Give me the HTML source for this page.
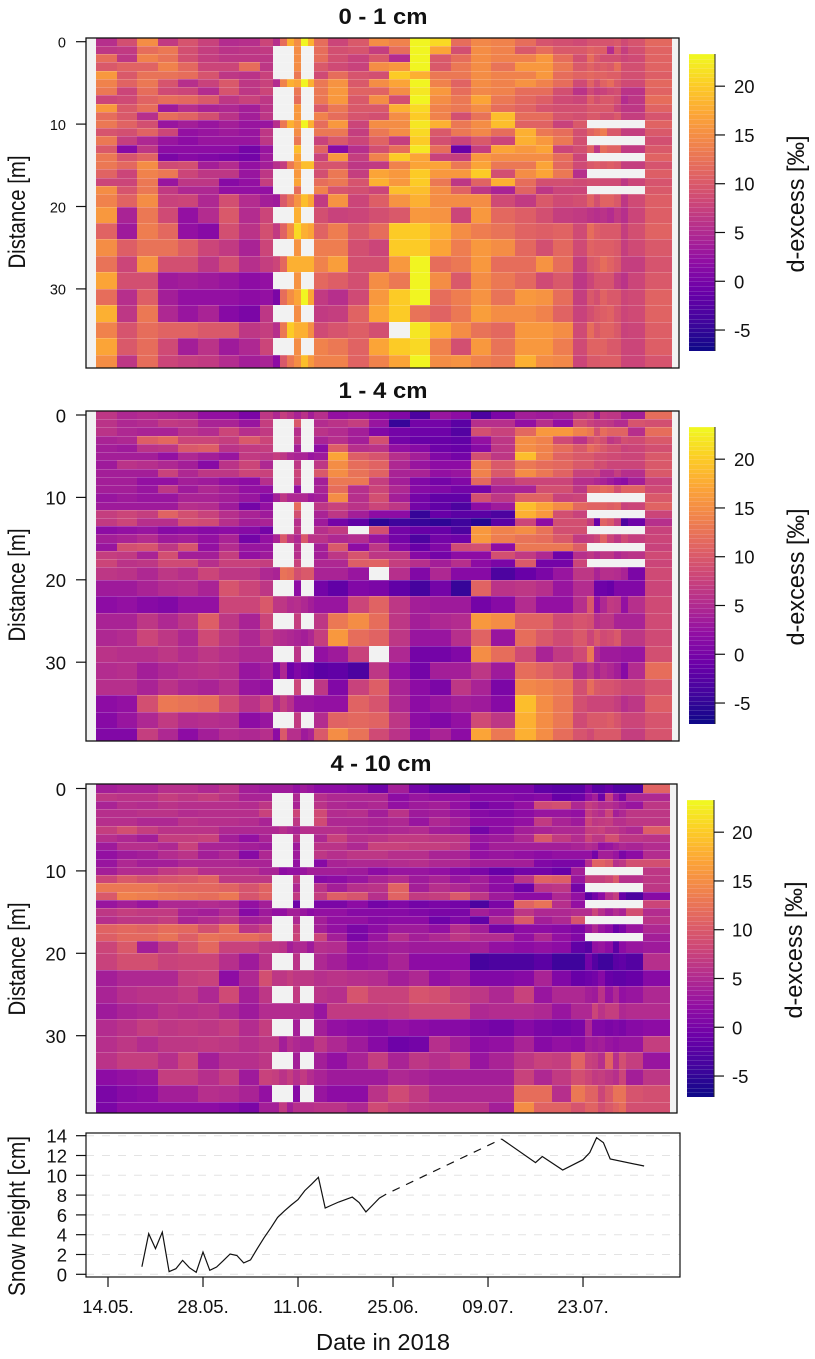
<!DOCTYPE html>
<html lang="en">
<head>
<meta charset="utf-8">
<title>d-excess heatmaps and snow height</title>
<style>
html,body{margin:0;padding:0;background:#fff;}
svg{display:block;font-family:"Liberation Sans",Arial,sans-serif;fill:#111;}
</style>
</head>
<body>
<svg id="figure" xmlns="http://www.w3.org/2000/svg" width="815" height="1359" viewBox="0 0 815 1359">
  <rect x="0" y="0" width="815" height="1359" fill="#ffffff"/>
  <g id="panels"></g>
  <g id="snow"></g>
  <text x="383" y="24" text-anchor="middle" font-size="22" font-weight="bold" textLength="89" lengthAdjust="spacingAndGlyphs">0 - 1 cm</text>
  <text x="383" y="398" text-anchor="middle" font-size="22" font-weight="bold" textLength="89" lengthAdjust="spacingAndGlyphs">1 - 4 cm</text>
  <text x="381" y="771" text-anchor="middle" font-size="22" font-weight="bold" textLength="101" lengthAdjust="spacingAndGlyphs">4 - 10 cm</text>
  <text transform="translate(25,212) rotate(-90)" text-anchor="middle" font-size="24" textLength="113" lengthAdjust="spacingAndGlyphs">Distance [m]</text>
  <text transform="translate(25,585) rotate(-90)" text-anchor="middle" font-size="24" textLength="113" lengthAdjust="spacingAndGlyphs">Distance [m]</text>
  <text transform="translate(25,959) rotate(-90)" text-anchor="middle" font-size="24" textLength="113" lengthAdjust="spacingAndGlyphs">Distance [m]</text>
  <text transform="translate(25,1216) rotate(-90)" text-anchor="middle" font-size="24" textLength="160" lengthAdjust="spacingAndGlyphs">Snow height [cm]</text>
  <text transform="translate(804,204) rotate(-90)" text-anchor="middle" font-size="24" textLength="137" lengthAdjust="spacingAndGlyphs">d-excess [‰]</text>
  <text transform="translate(804,577) rotate(-90)" text-anchor="middle" font-size="24" textLength="137" lengthAdjust="spacingAndGlyphs">d-excess [‰]</text>
  <text transform="translate(802,950) rotate(-90)" text-anchor="middle" font-size="24" textLength="137" lengthAdjust="spacingAndGlyphs">d-excess [‰]</text>
  <text x="383" y="1350" text-anchor="middle" font-size="23" textLength="134" lengthAdjust="spacingAndGlyphs">Date in 2018</text>
</svg>
<script>
const _ = null;
// column edges, days since 14 May
const columnEdgeDays = [-1.77,1.33,4.27,7.37,10.3,13.26,16.36,19.3,22.4,24.3,25.35,26.4,27.4,28.4,29.4,30.4,32.4,35.4,38.5,41.4,44.5,47.45,50.5,53.5,56.4,60,63,65.6,68.5,70.6,71.6,72.5,73.5,74.6,75.6,76.6,79.1,83.1];
// row edges, metres along transect
const rowEdgeMetres = [-0.5,0.5,1.5,2.5,3.5,4.5,5.5,6.5,7.5,8.5,9.5,10.5,11.5,12.5,13.5,14.5,15.5,16.5,17.5,18.5,20,22,24,26,28,30,32,34,36,38,39.6];
const distanceTicks = [0,10,20,30];
const colorbarTicks = [-5,0,5,10,15,20];
const colorMin = -7.15;
const colorMax = 23.3;
const colorbarLevelCount = 64;
const plasmaStops = ["#0d0887","#41049d","#6a00a8","#8f0da4","#b12a90","#cc4678","#e16462","#f1844b","#fca636","#fcce25","#f0f921"];

const dexcess0to1 = [
[5,9,15,6.5,9.5,7.5,4.5,5,8,5,12,18,15,23,18,12,8,10,15,14,23,21,12,14.5,14,12,9.5,9,8.5,9.5,9.5,9.5,9.5,10,8.5,9.5,11.5],
[6,6.5,12,13,9,7,5.5,6,6.5,_,_,_,15,_,_,12,9,9.5,7,12,23,17,9,15,14,10,12,10,10,11,10.5,10.5,4.5,10,7,9,11],
[12,6,14,12.5,9,7,6,6,6,_,_,_,15,_,_,12,9,7.5,10,4.5,23,10,12,15,14,14,16,12,9,12,10,9,9,9,8,8.5,11],
[10,11,11,14,11.5,8,8,12,6,_,_,_,15,_,_,10,8.5,7.5,15,16,23,10,13,15,12.5,16,16,13,10,11,10,10.5,10,12,9,9,11],
[16,10,12.5,12.5,12,9.5,6,5.5,7.5,_,_,_,13,_,_,8.5,12,9.5,9,20,18,13,13,15,14,14,16,12,11,11.5,11,11,10.5,10.5,9,9,10.5],
[14,11,13,9.5,5,7.5,10,6,7.5,4.5,14,18,17,23,18,13,15.5,10,15,17,23,14,11,15,14,15.5,14,12,8.5,11,9,11,12,10,8.5,8.5,11.5],
[13,8,12,8.5,8,4.5,9.5,6,8,_,_,_,13,_,_,13,16,11,11,15,22,16,12,14.5,14,12,12,9,5.5,8.5,7,7.5,8.5,9,5.5,5.5,11],
[8,8.5,11,12,11.5,10,6,7.5,6,_,_,_,12,_,_,13,16,10,15,9,23,15,13,17,13,11.5,10.5,8.5,8,10.5,9,10,10,9,4.5,6,12],
[16,10,12,2.5,5,3.5,4,3,5.5,_,_,_,16,_,_,10,13,10,10,18,21,14,13,15,12,11,9.5,9,9,10,10,10,10,8,6,6,11],
[12,10,5,12,11,9,5.5,3,6,_,_,_,16,_,_,14,12,9.5,9,15,20,14,9,12.5,19,12,12,9.5,9,10,10,9,9,10,7,7,9.5],
[13,11,9,2,3,2,3,2,2,5,13,18,16,23,18,12,16,8,15,15,22,18,13,15,19,11,11,7.5,10,_,_,_,_,_,_,_,11],
[9.5,9,11,8,1.5,2,2.5,2,6,_,_,_,15,_,_,13,13,7,13,15,21,10,13,14.5,12,18,13,12,9,11,12,13.5,10,10,7,7,10],
[13,7,4,2,1,2,2,2,6,_,_,_,13,_,_,7.5,10,8,11,7,20,9,7.5,10,8,18,16,13,9,_,_,_,_,_,_,_,9],
[10,0.5,6,1,1,1,1,-1,2,_,_,_,19,_,_,11,0.5,5,9,12,22,12,-2,7,17,16,17,8,9,11,6,12,11,11,6.5,6.5,10],
[13,9.5,11,-0.5,0.5,0,-0.5,-1,2.5,_,_,_,17,_,_,7.5,16,7,14,20,17,7.5,7,16,15,15,15,12,8,_,_,_,_,_,_,_,11],
[13,11.5,15,8.5,9,3,4.5,1.5,3,5,7,13,16,19,19,9.5,9.5,6,6.5,14,17,17,13,17,13,13,17,11.5,8.5,10,10.5,10,10.5,10,7,7,9.5],
[11,8,14,13,8,6,6,2,6,_,_,_,16,_,_,9,13,7,17,16,20,16,16,20,9,15,17,13,5,_,_,_,_,_,_,_,10.5],
[8,8,13,2,6,6,0.5,1.5,7,_,_,_,17,_,_,12,13,9.5,18,16,20,13,6,11,18,12,9,9,8.5,9,9,8.5,8.5,8.5,6,8,9.5],
[15,9.5,13,6.5,4,4,1.5,1.5,1.5,_,_,_,12,_,_,14,9.5,9,8,19,19,15,11,6,3.5,11,6,8,8,_,_,_,_,_,_,_,10],
[14,11,15,7.5,8,4,9,4.5,3,2.5,10,12.5,15.5,19,17,6.5,15.5,8,10.5,15.5,18,15,15,15,8.5,6.5,10,8.5,9,11,9,11,11,10,6,8.5,10.5],
[16,3.5,13,8.5,1.5,4.5,10,4.5,8,_,_,_,18,_,_,9,7.5,8,9,10,16,15.5,8,16,11.5,10.5,9,7,6.5,5.5,5,5.5,4.5,6.5,5,8,10.5],
[11,2.5,13.5,11.5,1.5,0.5,9,5.5,9,6.5,11,15,21,18,17,11,13.5,10,12,20,20,18,15,13.5,12.5,11,10.5,11,8.5,12,10.5,10,10,10,7,9,11],
[15,10.5,12.5,12.5,10.5,8,6.5,3.5,8,_,_,_,15.5,_,_,13.5,13.5,9,8,20,20,17,13.5,16,15,11.5,9,11.5,8.5,11,10.5,10.5,10.5,10,7,8.5,10],
[12.5,8,15.5,9,9,6,9,5,7,8,11.5,18,18,18,18,14,16.5,9,9,16,23,12,13,16,12,12,15.5,12,7,10,10.5,12,11,10,7,7,9.5],
[17,9,9,2.5,3,2.5,2,1,1.5,_,_,_,15.5,_,_,11.5,10.5,9,15,13,23,15,10,15,13,11.5,8.5,10,6,8,9.5,9.5,9.5,7,5.5,8,10],
[12,5,10.5,3,1.5,1.5,1.5,1,1.5,-0.5,12,15,17,23,17,6.5,5,8.5,16,20,23,12,13.5,15.5,12.5,16,15.5,12,7,10,9,11,10,10,8,8.5,11],
[18,6,13,4,2,3.5,0.5,-0.5,6,_,_,_,15,_,_,6.5,7,11,17,20,12.5,11,13,16.5,15,15,14,11,7.5,9,10,10.5,11,9.5,8,8.5,11],
[14,9.5,12,11,11,10,10,6,7,5,13,20,18,18,15,8.5,9.5,10.5,9,_,22,18,15,12.5,11.5,16,16,15,8.5,12,10,11,11,10,7.5,8,10.5],
[17,10,12,8.5,3,5.5,2.5,4,8,_,_,_,15,_,_,14,13,11,17,20,21,14,9,16,12.5,16,16,13.5,8.5,11,11,11,10,10,8,8,10.5],
[15,6,12,8,7,6.5,4.5,3,3.5,1,10,13,15,19,16,14,14,11,14,17,23,15,15.5,14,13,18,15,14.5,8,10,10,10.5,10.5,10.5,8,8,9.5]
];

const dexcess1to4 = [
[6,4,4.5,4,3.5,1.5,1.5,-0.5,6,4,7,5.5,3.5,5.5,3,5,1.5,2,1,0,-4,2,1,-4,-0.5,3,2.5,3,6,7,3,6.5,6,6,3,3,12],
[5.5,4,4.5,6.5,6,3.5,3.5,2,7,_,_,_,10,_,_,4.5,5.5,7,2,-5.5,-1,-1,-3,5,5,1.5,5,1.5,9,7.5,6.5,6.5,6,4.5,4.5,9.5,9],
[5.5,4,3.5,3.5,5.5,4.5,8,5,6.5,_,_,_,5,_,_,5.5,4.5,3,0,-1,-1.5,-1.5,-3.5,9,7.5,11.5,16,16,14,13,9,12,11,11,11,5,12],
[3.5,4,10.5,11.5,8,8,7,10,8,_,_,_,6,_,_,3.5,5,3,9,-1,-2,-2,-2.5,1.5,6,15,14,8.5,5.5,9,10,9,6,7,9,8.5,10],
[3,2.5,5.5,6,10,10.5,5.5,6.5,7,_,_,_,3,_,_,1,10.5,5,5.5,1.5,0.5,-1.5,-2,0.5,6,15,14,12,10,12,11,10,9,9,7.5,8,9],
[3,3,3,1.5,4,3,2,6.5,6,7,6,4,3.5,3.5,2,2.5,17,10.5,9.5,5,3,0,-1,9,6,19,14,11,10,10,9,9,8.5,8.5,8,8,10],
[2.5,5.5,5,4,3,0.5,5.5,8,4,_,_,_,6,_,_,6,15,12,11,4,2,1,1,13.5,10,13,12,11.5,10,10,8.5,9,8,8,8,8,10],
[3,3,3,7.5,4,6,6,8,7.5,_,_,_,8,_,_,10,15,12.5,11,3.5,3.5,1.5,2,14,10,15,13,11,7.5,7.5,8,5,5,7,5,5,10],
[3,3,1.5,1.5,3,2.5,1.5,1,5,_,_,_,7,_,_,3,13,13,7,3,0,-1,0,11.5,6,8,8,8,5,5,4,3.5,2.5,1.5,1,3,7.5],
[3,3,2,6,2.5,4,3,1.5,1.5,_,_,_,1.5,_,_,3.5,12,5,8,4,0.5,0,-1,-1,3.5,3.5,9,9,6,11,11,12,11.5,9,11,11,8.5],
[2,2.5,2,2,3.5,3.5,3,2,0,3,6,4,4,4,2.5,3,15,5,9,3,-1,-2.5,-2.5,9,6,11,11,7.5,8,_,_,_,_,_,_,_,10],
[2.5,2.5,2.5,2.5,5,4.5,2.5,-1,1.5,_,_,_,12,_,_,6,7.5,5.5,8,6,-1,-2.5,-4,1,2.5,19,17,15,11.5,11,11,11,10.5,11,7.5,8,11],
[7,8,7,11,9,7.5,5,3.5,2.5,_,_,_,9,_,_,3.5,6,3,1,1,-5.5,-2,-3,-3,-4,18,16,9,7.5,_,_,_,_,_,_,_,8],
[6.5,8,5,5,9,8.5,5,3,3.5,_,_,_,5,_,_,2.5,-1,-2.5,-6,-5,-5.5,-6,-5,-6.5,-3,8,1,9,9,7,-2,11,10,7,-4,-1.5,5],
[1,1.5,2,0.5,1,0.5,1,0.5,-1,_,_,_,6,_,_,5,6.5,_,9,-1,-2,-2,-4,16,14,15,12.5,9,9,_,_,_,_,_,_,_,7.5],
[3,3.5,4.5,2.5,3,1.5,3.5,-1,1.5,3.5,10,6,4,10,5.5,5.5,4,4.5,2,-1,-4,-1,-1.5,16,13.5,12.5,12,10,6.5,7,8,11,8,6,8.5,7,8],
[2,9,9.5,6,9.5,1.5,4.5,2,2,_,_,_,5,_,_,3,10,1,6,0.5,-2,0,8.5,9,1,13,13,13,10.5,_,_,_,_,_,_,_,7.5],
[7,6.5,3.5,9,3,3,7,1.5,2.5,_,_,_,5,_,_,3,6,9.5,6,6,0.5,-1,1,1,9,6.5,4,-1.5,5,6,4.5,6,6,4,5,5.5,8.5],
[8,5.5,6,8.5,8.5,5,7.5,7.5,7,_,_,_,7.5,_,_,4,4,10.5,11,7,5,3,5,1,-0.5,10,-1,-1,8,_,_,_,_,_,_,_,8],
[6,5.5,4,6,5,8,6,6,4,3.5,12.5,12,9,10,10,3.5,3.5,2,_,5,0,4,0.5,0.5,-4,-2,-0.5,2,6,6,3.5,5,5,4.5,3.5,-0.5,8.5],
[2.5,2.5,3.5,4.5,5,3.5,9.5,8,6,_,_,_,1,_,_,-1,-2.5,0,-0.5,-2.5,-4.5,-1,-5.5,11,5.5,6,5,2,4.5,4.5,-1.5,-1.5,-2,0,0,0,8],
[1,1.5,0.5,0,1.5,1.5,8,8,10,6,6,4.5,5,4,3,2,2,8,11,6,3,2.5,2.5,-1,0.5,4.5,1.5,1.5,5,10,1.5,4,6.5,6,1.5,5,8.5],
[3.5,3.5,6,4,6,10.5,6,3.5,8,_,_,_,7,_,_,6,13,15,12,6,3,4,4.5,16,15,11,11,8.5,9.5,9,5,6,6,3.5,3.5,3.5,8.5],
[4,4.5,8,6,4,8.5,6,4,6.5,5,4.5,4,3.5,3,4,7,16,12,11,6,2,2,5,11,2,12,10,8.5,10,8,10,8.5,9,10,6,6,8.5],
[5.5,5,5,6,4.5,6,5,4,4,_,_,_,5.5,_,_,1.5,2.5,7.5,_,4,-1,-1,0,15,12,8.5,3.5,6.5,8.5,13,4,2.5,2.5,2.5,2,2,9],
[4.5,5,3,4,5,5.5,5,2,3,0,4,-1.5,0,-1,-1.5,-3,-2.5,-4,6,1.5,-1,3,3,6,2.5,12,11,9.5,4,6,3.5,5,4,3,0.5,4.5,12],
[5,5,3.5,5.5,4,3.5,5,2,1.5,_,_,_,8,_,_,6,0,7.5,10.5,3.5,1,-0.5,6,3.5,-0.5,14.5,14,13,9,12,10,9.5,9.5,9,8,8,9.5],
[1,1.5,9,13,12.5,12,8.5,5.5,8,4,7,5,2,2,2,1.5,1.5,11,9.5,4,1,2,3,2.5,0.5,19,15,13,9,8,8,8,8,7,5,6,10.5],
[0.5,2,4,6.5,4.5,5,4.5,1,2,_,_,_,6.5,_,_,4.5,11,11.5,11,6,1,0,1.5,8.5,6,18,15,13,8.5,10,10,10,10.5,9.5,8,8,9.5],
[0,0,7,4,1,3,4.5,4,5,1,10,5,5,2.5,3.5,10,15,12.5,8.5,5.5,1.5,3.5,1,17,13,18,15,12,9.5,8.5,10,10,10,10,7,7,9.5]
];

const dexcess4to10 = [
[3,3.5,3.5,5,5,4,5.5,3,2.5,2.5,2.5,2.5,1.5,2.5,2,1,1,0.5,-1.5,3,-1,-3,-3.5,-0.5,-0.5,-0.5,-2.5,-3,-3,-0.5,-3,-3,-2,-3.5,-3.5,-3.5,11],
[6,5.5,5.5,7,6,7,5.5,3.5,3.5,_,_,_,4,_,_,5,4,4,4,1,2,1.5,1.5,0.5,0.5,0,0.5,-2,-1.5,1.5,3,-1.5,7,2,-0.5,4,4],
[3.5,5,4.5,5.5,5,5,5,4.5,6,_,_,_,3.5,_,_,5.5,4,3.5,4,1.5,2.5,3,1.5,-1,0,1.5,8.5,9,4,7,6,4.5,5,4,3,2,6],
[5,5,5.5,5.5,4.5,5,5,5,7.5,_,_,_,8,_,_,8.5,4.5,5,3,5.5,2.5,3,2,0.5,0,1,2,2,1.5,7,5.5,4.5,8,3,4,6,6],
[5,5,4,4,5.5,5,5,4.5,3.5,_,_,_,6,_,_,8.5,4,4,3.5,4,2,4,3,1,1,1.5,6.5,3.5,2.5,8,6,6.5,7,5,5,6,6],
[7,9,7,5.5,5.5,5.5,4,4,4,4,5,4,3.5,5,5,5,5,4,3.5,4,4.5,3,2.5,-1,1,3,3.5,4,4,7,7,7.5,6,6,5,4,10.5],
[5,4,3,7,7,7.5,3,1.5,3.5,_,_,_,5,_,_,4,7.5,5,5.5,6.5,6.5,6,6,2,2.5,4,10,6.5,4.5,8,6,6,9,9,6,6,5.5],
[2.5,5,5,4,7.5,3.5,3.5,3,2.5,_,_,_,2.5,_,_,5.5,5.5,4,7.5,7.5,7,7,6,1.5,3,3,3,3,3.5,4.5,4,1.5,2,3,4,3.5,4.5],
[1.5,2.5,3,4.5,5.5,3,4,0.5,4,_,_,_,2.5,_,_,6,5,6,6,5,5,3.5,3.5,1.5,2,1.5,1,1.5,1.5,1.5,-1,3,3,2,-0.5,1,4.5],
[2,4,3,3,4,4,4,3.5,3.5,_,_,_,1.5,_,_,0.5,3.5,4,4,4.5,5,4,4,3,3,3,0,-0.5,-0.5,5,11,11,10,5,6,9,9],
[3,4.5,4.5,6.5,7.5,5,5,5,3.5,3.5,1,1.5,1.5,2,3,3,3,2.5,1,2,2,1.5,0.5,-0.5,-2,-1,-1,-2,3,_,_,_,_,_,_,_,6],
[8,10,9,9.5,10,11,6,6,6,_,_,_,6,_,_,0.5,1,2,3.5,4.5,2.5,3.5,2,3,1,5.5,11,10.5,2,7,7,7,8,10,5,5,6],
[13,13,13,12,11.5,11.5,11,9.5,11,_,_,_,4,_,_,5.5,3,5,5.5,11,3,5,4,3,1,-1.5,5.5,6,-1,_,_,_,_,_,_,_,6],
[10,14,13.5,13,12.5,12,13,9.5,11,_,_,_,6.5,_,_,7,10.5,9.5,5,11,6.5,7,10,6,2.5,1,1,4,1.5,-3,-1,1,5,7,-2,-4,0.5],
[2,3,2,4,4,4.5,4,1.5,3,_,_,_,-1.5,_,_,-0.5,-0.5,1,-1,0,-1,-0.5,-1,-4,-0.5,11,12.5,5,1.5,_,_,_,_,_,_,_,8],
[6,7,6.5,6.5,3.5,3,4.5,0.5,2.5,1.5,1.5,3,3,2,1,1.5,1.5,0.5,0.5,0.5,0,-0.5,-0.5,3,2,6,4,4,4.5,4.5,8,5,3,4.5,3.5,9,4.5],
[5,6,6,7,3.5,4.5,6,3,3.5,_,_,_,4,_,_,3,1.5,1.5,0.5,1,1,-1.5,0,-2.5,4,10,3,4,9.5,_,_,_,_,_,_,_,5.5],
[11,11.5,11,12,11.5,9,12,5.5,7.5,_,_,_,7,_,_,3,1.5,-0.5,1,2.5,2.5,1.5,5,3,-1,1,1,0.5,-0.5,2,4,2,1,-2,-0.5,2,4],
[10.5,11.5,11.5,12.5,10.5,12.5,12,12,11,_,_,_,8,_,_,8,3,-0.5,2,5,3,4,6,4.5,4.5,1.5,4,1.5,0,_,_,_,_,_,_,_,3],
[8,10,3,6.5,9.5,11.5,7.5,7.5,6,6,5.5,3,4,4,2.5,5,4.5,1.5,2.5,3,2.5,2.5,2.5,3,1.5,1,1.5,1,-2.5,-3.5,1.5,2,1,-3,1,2,2.5],
[7.5,9,9,7.5,8,8,5,2.5,5.5,_,_,_,5.5,_,_,4,3,1.5,2,3.5,1,1,1,-4.5,-4,-4,-3,-5,-5,-1,-3.5,-5,-5,-3,-2.5,-3.5,5],
[3,4,4,4,7,7.5,1,4,9,6,6,7,6,6,6,5,5.5,5,4.5,3,4,1.5,2.5,0,0,0.5,3.5,0,-2,-1.5,-1,0.5,-2,-2.5,-2.5,-2,0.5],
[3.5,5,5.5,5.5,6.5,4,8.5,3,6,_,_,_,6.5,_,_,5.5,5,9.5,7.5,7.5,9.5,9,7,6,4,7.5,2,4,4,3,2.5,5.5,2,4,1.5,2,4],
[2.5,3.5,4,5.5,5,5.5,4,2.5,4.5,4.5,4.5,4.5,4.5,4,4,2,6.5,6.5,6.5,7,8,8,8,4,4.5,4.5,4,2,4,4,8,5.5,7,7,4,4.5,4.5],
[4.5,5.5,7,6,6.5,6,7,4.5,7,_,_,_,3,_,_,3,1.5,1,0.5,1.5,1,0.5,0.5,-0.5,-1,0.5,-0.5,-1,-0.5,4,0,0,-0.5,0,-0.5,0.5,1],
[5,6,4.5,6,6,6.5,6,5,6,6,3,5,4,3.5,3.5,6,4,2.5,0.5,-1.5,-1,5,3,1,1.5,3.5,0.5,1.5,1,3,2.5,3,2,1.5,2,2,7],
[5.5,7,7,5,8,3,5,5,6,_,_,_,3,_,_,3,1.5,3.5,7,3.5,6,5,6.5,2,3.5,6,7.5,7,11,7.5,7,5,11,5,9,7,2],
[1,1.5,2,7,7,5,7,2.5,7.5,7,5.5,7,5,6.5,4.5,3.5,2.5,2.5,2.5,4,3.5,3,3,3,3,7.5,4,6.5,9,8,6.5,7,6,5,8,3,6],
[-0.5,0.5,1,3,3,5,4.5,3.5,1.5,_,_,_,0.5,_,_,2,1,1,5.5,8.5,6.5,4,4,4,4,12,12,5,13,11,11,8,10,12.5,12.5,9.5,9],
[-0.5,1,1,1,1,1,0.5,-0.5,3,3,6.5,3,5,5,5,5.5,5.5,4,8.5,7,6,5.5,5.5,5.5,3,15,11,11,9.5,11,11,9,10,11,12,9,9]
];

// snow height record: days since 14 May and height in cm
const snowDays = [5,6,7,8,9,10,11,12,13,14,15,16,17,18,19,20,21,22,23,24,25,26,27,28,29,30,31,32,33,34,35,36,37,38,39,40,41,58,63,64,67,70,71,72,73,74,79];
const snowValues = [0.77,4.1,2.6,4.25,0.27,0.57,1.4,0.67,0.2,2.25,0.4,0.74,1.38,2.05,1.9,1.15,1.45,2.6,3.7,4.7,5.75,6.4,7,7.55,8.45,9.1,9.8,6.7,7,7.3,7.55,7.8,7.25,6.3,7,7.7,8.1,13.67,11.28,11.9,10.54,11.58,12.3,13.8,13.3,11.65,10.94];
const snowTicks = [0,2,4,6,8,10,12,14];
const dateTickDays = [0,14,28,42,56,70];
const dateTickLabels = ["14.05.","28.05.","11.06.","25.06.","09.07.","23.07."];

const SVGNS = "http://www.w3.org/2000/svg";
function svgEl(tag, attrs, parent){
  const el = document.createElementNS(SVGNS, tag);
  for (const k in attrs) el.setAttribute(k, attrs[k]);
  parent.appendChild(el);
  return el;
}
function hexToRgb(h){return [parseInt(h.slice(1,3),16),parseInt(h.slice(3,5),16),parseInt(h.slice(5,7),16)];}
function plasma(v){
  let t = (v-colorMin)/(colorMax-colorMin);
  t = Math.max(0,Math.min(1,t));
  const p = t*(plasmaStops.length-1);
  const i = Math.min(Math.floor(p),plasmaStops.length-2);
  const f = p-i;
  const a = hexToRgb(plasmaStops[i]), b = hexToRgb(plasmaStops[i+1]);
  return "rgb("+[0,1,2].map(function(j){return Math.round(a[j]+(b[j]-a[j])*f);}).join(",")+")";
}
// cells render slightly lighter than the colour bar in the dark half of the ramp
function cellColor(v){
  const lift = 0.8*Math.max(0,Math.min(1,(8-v)/4));
  return plasma(v+lift);
}

const panelLayouts = [
  {key:"0-1cm", values:dexcess0to1, left:86, right:679, top:38, bottom:368, zeroY:41.7, dayPx:6.786, tickFont:14.5, barX:689, barW:26, barTop:54},
  {key:"1-4cm", values:dexcess1to4, left:86, right:679, top:411, bottom:741, zeroY:415, dayPx:6.786, tickFont:18.5, barX:689, barW:26, barTop:427},
  {key:"4-10cm", values:dexcess4to10, left:86, right:677, top:784, bottom:1113, zeroY:788.5, dayPx:6.763, tickFont:18.5, barX:687, barW:27, barTop:800}
];

const panelsRoot = document.getElementById("panels");
panelLayouts.forEach(function(p){
  const xOf = function(day){return 108 + p.dayPx*day;};
  const yOf = function(m){return p.zeroY + 8.24*m;};
  const g = svgEl("g", {}, panelsRoot);
  
  

  const bg = svgEl("rect", {x:p.left,y:p.top,width:p.right-p.left,height:p.bottom-p.top,fill:"#f2f2f2"}, g);
  
  

  const cellGroup = svgEl("g", {"shape-rendering":"crispEdges"}, g);
  
  
  p.values.forEach(function(row, r){
    const y0 = Math.round(yOf(rowEdgeMetres[r]));
    const y1 = Math.round(Math.min(yOf(rowEdgeMetres[r+1]), p.bottom));
    row.forEach(function(v, c){
      if (v === null) return;
      const x0 = Math.round(xOf(columnEdgeDays[c]));
      const x1 = Math.round(xOf(columnEdgeDays[c+1]));
      const cell = svgEl("rect", {x:x0,y:y0,width:x1-x0,height:y1-y0,fill:cellColor(v)}, cellGroup);
      
      
    });
    if (r > 0){
      const seam = svgEl("rect", {x:Math.round(xOf(columnEdgeDays[0])),y:y0,width:Math.round(xOf(columnEdgeDays[columnEdgeDays.length-1]))-Math.round(xOf(columnEdgeDays[0])),height:1,fill:"#ffffff","fill-opacity":0.2}, cellGroup);
      
      
    }
  });

  const frame = svgEl("rect", {x:p.left,y:p.top,width:p.right-p.left,height:p.bottom-p.top,fill:"none",stroke:"#111","stroke-width":1.3}, g);
  
  

  distanceTicks.forEach(function(m){
    const y = yOf(m);
    const tick = svgEl("line", {x1:76,x2:p.left,y1:y,y2:y,stroke:"#111","stroke-width":1.2}, g);
    
    
    const label = svgEl("text", {x:66,y:y+p.tickFont*0.36+0.6,"text-anchor":"end","font-size":p.tickFont}, g);
    label.textContent = String(m);
    
    
  });

  // colour bar
  const barHeight = 297;
  const barY = function(v){return p.barTop + barHeight*(colorMax-v)/(colorMax-colorMin);};
  const barG = svgEl("g", {"shape-rendering":"crispEdges"}, g);
  
  
  for (let i=0;i<colorbarLevelCount;i++){
    const v0 = colorMin + (colorMax-colorMin)*i/colorbarLevelCount;
    const v1 = colorMin + (colorMax-colorMin)*(i+1)/colorbarLevelCount;
    const yTop = Math.round(barY(v1)), yBot = Math.round(barY(v0));
    const lvl = svgEl("rect", {x:p.barX,y:yTop,width:p.barW,height:yBot-yTop,fill:plasma((v0+v1)/2)}, barG);
    
    
    const sm = svgEl("rect", {x:p.barX,y:yTop,width:p.barW,height:1,fill:"#ffffff","fill-opacity":0.14}, barG);
    
    
  }
  const barEdge = svgEl("line", {x1:p.barX+p.barW,x2:p.barX+p.barW,y1:p.barTop,y2:p.barTop+barHeight,stroke:"#222","stroke-width":1}, g);
  
  
  colorbarTicks.forEach(function(v){
    const y = barY(v);
    const tick = svgEl("line", {x1:p.barX+p.barW,x2:p.barX+p.barW+10,y1:y,y2:y,stroke:"#111","stroke-width":1.2}, g);
    
    
    const label = svgEl("text", {x:p.barX+45,y:y+7,"font-size":18.5}, g);
    label.textContent = String(v);
    
    
  });
});

// snow panel
const snowRoot = document.getElementById("snow");
const snowLeft = 86, snowRight = 680, snowTop = 1133, snowBottom = 1277;
const snowX = function(day){return 108 + 6.786*day;};
const snowY = function(cm){return 1274.3 - 9.9*cm;};
snowTicks.forEach(function(t){
  const grid = svgEl("line", {x1:snowLeft,x2:snowRight,y1:snowY(t),y2:snowY(t),stroke:"#e3e3e3","stroke-width":1,"stroke-dasharray":"8 8"}, snowRoot);
  
  
  const tick = svgEl("line", {x1:76,x2:snowLeft,y1:snowY(t),y2:snowY(t),stroke:"#111","stroke-width":1.2}, snowRoot);
  
  
  const label = svgEl("text", {x:67,y:snowY(t)+7,"text-anchor":"end","font-size":18.5}, snowRoot);
  label.textContent = String(t);
  
  
});
const snowFrame = svgEl("rect", {x:snowLeft,y:snowTop,width:snowRight-snowLeft,height:snowBottom-snowTop,fill:"none",stroke:"#111","stroke-width":1.2}, snowRoot);


let solidPath = "", dashedPath = "";
snowDays.forEach(function(d,i){
  const pt = snowX(d).toFixed(1)+" "+snowY(snowValues[i]).toFixed(1);
  if (i === 0){ solidPath += "M"+pt; return; }
  if (d - snowDays[i-1] > 6){
    dashedPath += "M"+snowX(snowDays[i-1]).toFixed(1)+" "+snowY(snowValues[i-1]).toFixed(1)+"L"+pt;
    solidPath += "M"+pt;
  } else {
    solidPath += "L"+pt;
  }
});
const snowLine = svgEl("path", {d:solidPath,fill:"none",stroke:"#111","stroke-width":1.2}, snowRoot);


const snowGap = svgEl("path", {d:dashedPath,fill:"none",stroke:"#111","stroke-width":1.2,"stroke-dasharray":"8 7","stroke-dashoffset":"8"}, snowRoot);


dateTickDays.forEach(function(d,i){
  const tick = svgEl("line", {x1:snowX(d),x2:snowX(d),y1:snowBottom,y2:1287,stroke:"#111","stroke-width":1.2}, snowRoot);
  
  
  const label = svgEl("text", {x:snowX(d),y:1313,"text-anchor":"middle","font-size":18.5}, snowRoot);
  label.textContent = dateTickLabels[i];
  
  
});
</script>
</body>
</html>
